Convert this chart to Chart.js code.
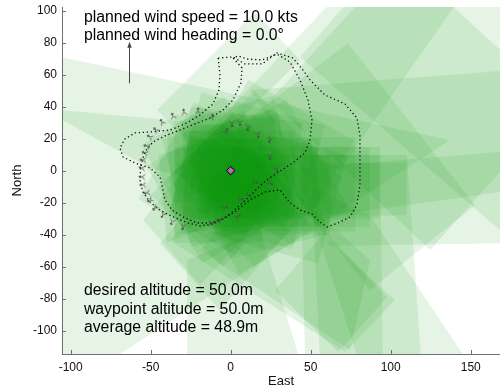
<!DOCTYPE html>
<html>
<head>
<meta charset="utf-8">
<script src="https://cdn.jsdelivr.net/npm/chart.js@4.4.1/dist/chart.umd.min.js"></script>
<style>
  html, body { margin: 0; padding: 0; background: #fff; }
  canvas { display: block; }
</style>
</head>
<body>
<canvas id="footprintChart" width="500" height="391"></canvas>
<script>
// camera footprints on the ground (East, North in metres), one quad per frame
const footprints = [
    [[-237.9, 99.2], [137.1, 19.2], [-156.7, -171.4], [-237.9, -171.4]],
    [[-119.2, 39.2], [12.1, 26.6], [-0.4, -12.1], [-50.4, 1.7]],
    [[-46.0, 37.9], [15.2, 99.2], [43.3, 69.2], [-17.9, 7.9]],
    [[-16.1, 22.3], [65.2, 107.9], [143.3, 107.9], [68.3, 0.4]],
    [[73.3, 79.8], [152.7, -21.6], [87.1, -74.6], [5.8, 28.6]],
    [[105.8, 133.0], [205.8, 41.1], [124.6, -49.6], [24.6, 44.2]],
    [[30.8, 0.4], [180.8, 12.9], [180.8, -45.2], [62.1, -47.1]],
    [[12.1, 50.4], [180.8, 63.3], [180.8, -11.8], [62.1, -28.2]],
    [[43.3, 71.1], [174.6, -42.7], [255.8, 51.1], [124.6, 164.8]],
    [[43.3, 14.8], [93.3, 14.8], [95.2, -118.3], [46.5, -118.3]],
    [[49.6, 9.8], [110.2, 9.8], [119.0, -118.3], [55.8, -118.3]],
    [[43.3, -5.8], [87.1, -27.9], [149.6, -121.4], [80.8, -121.4]],
    [[-27.2, -55.8], [18.4, -37.1], [43.3, -118.3], [-27.2, -118.3]],
    [[59.1, -38.4], [97.8, -79.1], [67.1, -113.4], [27.7, -74.6]],
    [[-19.1, -49.7], [74.6, -112.2], [87.1, -55.8], [24.6, 0.4]],
    [[-37.9, -43.6], [71.6, -113.4], [102.8, -80.8], [5.8, 6.7]],
    [[-54.7, -30.9], [-19.2, 12.9], [24.6, -24.6], [-19.1, -71.4]],
    [[-44.2, -45.3], [-0.4, 6.7], [37.1, -37.2], [-6.7, -87.2]],
    [[-30, 25], [40, 25], [40, -30], [-30, -30]],
    [[-20, 20], [55, 20], [55, -35], [-20, -35]],
    [[-10, 10], [62, 10], [62, -40], [-10, -40]],
    [[-35, 35], [28, 35], [28, -20], [-35, -20]],
    [[-5, 21], [78, 21], [78, -38], [-5, -38]],
    [[0, 15], [87, 15], [87, -35], [0, -35]],
    [[10, 10], [93, 10], [93, -30], [10, -30]],
    [[15, 5], [110, 5], [110, -28], [15, -28]],
    [[24.7, 37.9], [42.9, -29.7], [-24.7, -47.9], [-42.9, 19.7]],
    [[59, 28.3], [38.3, -49], [-39, -28.3], [-18.3, 49]],
    [[7.8, 37.8], [42.8, -22.8], [-17.8, -57.8], [-52.8, 2.8]],
    [[15, 50], [70, -5], [15, -60], [-40, -5]],
    [[34.6, 44.6], [74.6, -24.6], [5.4, -64.6], [-34.6, 4.6]],
    [[37.8, 7.8], [2.8, -52.8], [-57.8, -17.8], [-22.8, 42.8]],
    [[76.9, 18.9], [38.9, -46.9], [-26.9, -8.9], [11.1, 56.9]],
    [[26.2, 46.8], [41.8, -11.2], [-16.2, -26.8], [-31.8, 31.2]],
    [[-5, 30], [40, -15], [-5, -60], [-50, -15]],
    [[-35, 15], [20, 15], [20, -45], [-35, -45]],
    [[72.9, 9.7], [54.7, -57.9], [-12.9, -39.7], [5.3, 27.9]],
    [[-4, 46], [26, -6], [-26, -36], [-56, 16]],
    [[-40, 25], [30, 35], [40, -30], [-35, -40]],
    [[-25, 40], [45, 30], [35, -35], [-30, -25]],
    [[-45, 10], [20, 30], [25, -20], [-40, -45]],
    [[-20, -5], [50, 20], [60, -40], [0, -55]],
    [[-25, 20], [15, 20], [15, -15], [-25, -15]],
    [[-5, 30], [25, 0], [-5, -30], [-35, 0]],
    [[8, 35], [30, -3], [-8, -25], [-30, 13]],
    [[22.6, 9.7], [9.7, -38.6], [-38.6, -25.7], [-25.7, 22.6]],
    [[-15, 15], [30, 15], [30, -25], [-15, -25]]
];

// flown track, two laps around the waypoint
const lapOuter = [
    [-7.8, 70.4], [-6.7, 59.8], [-7.3, 50.4], [-11.1, 41.7], [-19.2, 34.8], [-28.6, 29.2],
    [-37.9, 25.4], [-50.4, 24.2], [-59.8, 23.6], [-66.1, 19.8], [-69.2, 14.2], [-67.3, 8.6],
    [-59.8, 4.8], [-50.4, 1.7], [-44.2, -3.9], [-42.3, -12.1], [-41.1, -18.3], [-36.7, -24.6],
    [-29.8, -28.9], [-21.1, -32.7], [-12.9, -32.7], [-5.4, -30.2], [2.7, -25.8], [12.1, -18.3],
    [21.4, -13.3], [30.8, -12.1], [37.1, -20.2], [43.3, -24.6], [50.8, -27.1], [55.8, -32.1],
    [60.2, -35.2], [67.1, -32.7], [74.6, -28.9], [78.9, -21.4], [80.8, -8.9], [80.8, 6.7],
    [80.8, 22.3], [78.9, 32.9], [71.4, 41.7], [58.9, 47.3], [49.6, 56.7], [45.2, 62.9],
    [38.9, 70.4], [28.9, 73.6], [19.6, 66.7], [8.9, 66.7], [4.6, 69.2], [1.4, 71.1], [-7.8, 70.4]
];
const lapInner = [
    [1.6, 70.4], [7.1, 64.2], [6.4, 54.8], [1.4, 44.2], [-4.8, 37.9], [-12.9, 32.9],
    [-22.3, 29.2], [-31.7, 25.4], [-41.1, 21.7], [-48.6, 17.9], [-53.6, 11.7], [-56.1, 3.6],
    [-56.7, -5.8], [-54.8, -13.3], [-50.4, -19.6], [-44.2, -24.6], [-36.1, -28.9], [-26.7, -32.7],
    [-19.2, -34.6], [-11.1, -33.3], [-3.6, -29.6], [3.9, -23.3], [12.1, -15.8], [20.2, -7.7],
    [28.9, -1.4], [38.9, 4.8], [46.4, 11.1], [49.6, 19.2], [50.8, 31.7], [48.3, 44.2],
    [43.3, 56.7], [37.1, 67.9], [28.9, 72.9], [19.6, 69.2], [10.2, 69.8], [4.6, 71.7], [1.6, 70.4]
];

// attitude samples: position and heading (deg)
const attitudePoints = [
    [-55.4, 1.7], [-55.4, -3.9], [-54.8, -8.9], [-54.8, 6.7], [-53.6, 11.1], [-52.3, 15.4],
    [-50.4, 21.1], [-46.7, 25.4], [-52.3, -13.9], [-50.4, -18.3], [-47.3, -23.3], [-42.3, -27.7],
    [-36.7, -32.1], [-29.8, -35.2], [-42.9, 30.4], [-36.1, 34.2], [-29.2, 36.7], [-20.4, 37.3],
    [-11.7, 33.6], [-2.9, 24.8], [0.8, 29.2], [5.8, 29.8], [10.8, 26.7], [17.1, 22.3],
    [24.6, 19.2], [24.6, 8.6], [28.9, 0.4], [24.6, -7.7], [15.2, -7.1], [-11.7, -32.7],
    [-6.7, -30.8], [-3.6, -23.3], [4.6, -28.9], [6.4, -17.7], [10.8, -15.2]
];
const attitudeHeading = [
    100, 95, 90, 95, 110, 105, 120, 135, 80, 60, 45, 30,
    20, 10, 150, 160, 170, 180, 200, 215, 0, 0, 10, 350,
    20, 0, 340, 300, 280, 260, 240, 250, 230, 270, 300
];

const waypoint = [0, 0];
const windArrow = { from: [-63.8, 54.6], to: [-63.8, 80.6] };

const xTickValues = [-100, -50, 0, 50, 100, 150];
const yTickValues = [-100, -80, -60, -40, -20, 0, 20, 40, 60, 80, 100];

const windLines = ['planned wind speed = 10.0 kts', 'planned wind heading = 0.0\u00b0'];
const altitudeLines = ['desired altitude = 50.0m', 'waypoint altitude = 50.0m', 'average altitude = 48.9m'];

const AXIS_GREY = '#707070';
const FONT = '"Liberation Sans", Arial, sans-serif';

// small aircraft-like glyph used for the attitude markers
function makeAttitudeGlyph() {
    const c = document.createElement('canvas');
    c.width = 7;
    c.height = 7;
    const g = c.getContext('2d');
    g.strokeStyle = '#4a4a4a';
    g.lineWidth = 0.9;
    g.beginPath();
    g.moveTo(3.5, 6.8);
    g.lineTo(3.5, 3.5);
    g.lineTo(1, 0.6);
    g.moveTo(3.5, 3.5);
    g.lineTo(6, 0.6);
    g.moveTo(2, 5.5);
    g.lineTo(5, 5.5);
    g.stroke();
    return c;
}
const attitudeGlyph = makeAttitudeGlyph();

const toXY = pts => pts.map(([x, y]) => ({ x: x, y: y }));

const footprintSets = footprints.map(poly => ({
    type: 'line',
    data: toXY(poly.concat([poly[0]])),
    fill: 'shape',
    backgroundColor: 'rgba(0, 150, 0, 0.1)',
    borderColor: 'rgba(0, 0, 0, 0)',
    borderWidth: 0,
    pointRadius: 0,
    tension: 0
}));

const lapStyle = {
    type: 'line',
    fill: false,
    borderColor: '#111',
    borderWidth: 1.3,
    borderDash: [1.3, 2.7],
    pointRadius: 0,
    tension: 0
};

// inward tick marks, drawn over the footprints
const inwardTicks = {
    id: 'inwardTicks',
    afterDatasetsDraw(chart) {
        const { ctx, chartArea, scales: { x, y } } = chart;
        ctx.save();
        ctx.strokeStyle = AXIS_GREY;
        ctx.lineWidth = 1;
        ctx.beginPath();
        xTickValues.forEach(v => {
            const px = Math.round(x.getPixelForValue(v)) + 0.5;
            ctx.moveTo(px, chartArea.bottom);
            ctx.lineTo(px, chartArea.bottom - 4);
        });
        yTickValues.forEach(v => {
            const py = Math.round(y.getPixelForValue(v)) + 0.5;
            ctx.moveTo(chartArea.left, py);
            ctx.lineTo(chartArea.left + 4, py);
        });
        ctx.stroke();
        ctx.restore();
    }
};

// wind arrow and the two text blocks
const annotations = {
    id: 'annotations',
    afterDraw(chart) {
        const { ctx, scales: { x, y } } = chart;
        ctx.save();

        const ax = Math.round(x.getPixelForValue(windArrow.from[0])) + 0.5;
        const ay0 = y.getPixelForValue(windArrow.from[1]);
        const ay1 = y.getPixelForValue(windArrow.to[1]);
        ctx.strokeStyle = '#444';
        ctx.fillStyle = '#444';
        ctx.lineWidth = 1;
        ctx.beginPath();
        ctx.moveTo(ax, ay0);
        ctx.lineTo(ax, ay1 + 4);
        ctx.stroke();
        ctx.beginPath();
        ctx.moveTo(ax, ay1);
        ctx.lineTo(ax - 2.2, ay1 + 6);
        ctx.lineTo(ax + 2.2, ay1 + 6);
        ctx.closePath();
        ctx.fill();

        ctx.font = '15.8px ' + FONT;
        ctx.fillStyle = '#000';
        ctx.textAlign = 'left';
        ctx.textBaseline = 'alphabetic';
        const tx = x.getPixelForValue(-91.7);
        const topBase = y.getPixelForValue(93.1);
        windLines.forEach((t, i) => ctx.fillText(t, tx, topBase + i * 18.7));
        const lowBase = y.getPixelForValue(-77.9);
        altitudeLines.forEach((t, i) => ctx.fillText(t, tx, lowBase + i * 18.6));
        ctx.restore();
    }
};

const ctx = document.getElementById('footprintChart').getContext('2d');
new Chart(ctx, {
    type: 'scatter',
    data: {
        datasets: [
            {
                type: 'scatter',
                data: toXY([waypoint]),
                pointStyle: 'circle',
                pointRadius: 1.3,
                backgroundColor: '#3fcf3f',
                borderWidth: 0
            },
            {
                type: 'scatter',
                data: toXY([waypoint]),
                pointStyle: 'rectRot',
                pointRadius: 4.3,
                backgroundColor: '#cc44cc',
                borderColor: '#000',
                borderWidth: 1
            },
            {
                type: 'scatter',
                data: toXY(attitudePoints),
                pointStyle: attitudeGlyph,
                pointRadius: 3.5,
                rotation: c => attitudeHeading[c.dataIndex]
            },
            Object.assign({ data: toXY(lapOuter) }, lapStyle),
            Object.assign({ data: toXY(lapInner) }, lapStyle),
            ...footprintSets
        ]
    },
    options: {
        responsive: false,
        animation: false,
        devicePixelRatio: 1,
        events: [],
        layout: { autoPadding: false, padding: { top: 7, right: 0, left: 0, bottom: 0 } },
        plugins: {
            legend: { display: false },
            tooltip: { enabled: false }
        },
        scales: {
            x: {
                type: 'linear',
                min: -105.4,
                max: 168.3,
                afterBuildTicks: s => { s.ticks = xTickValues.map(v => ({ value: v })); },
                afterFit: s => { s.height = 37; s.paddingLeft = 0; s.paddingRight = 0; },
                grid: { display: true, drawOnChartArea: false, drawTicks: false },
                border: { display: true, color: AXIS_GREY, width: 1 },
                ticks: { color: '#111', font: { family: FONT, size: 12 }, padding: 6, maxRotation: 0 },
                title: {
                    display: true, text: 'East', color: '#111',
                    font: { family: FONT, size: 13 }, padding: { top: 0, bottom: 2 }
                }
            },
            y: {
                type: 'linear',
                min: -114.6,
                max: 102.3,
                afterBuildTicks: s => { s.ticks = yTickValues.map(v => ({ value: v })); },
                afterFit: s => { s.width = 62; s.paddingTop = 0; s.paddingBottom = 0; },
                grid: { display: true, drawOnChartArea: false, drawTicks: false },
                border: { display: true, color: AXIS_GREY, width: 1 },
                ticks: { color: '#111', font: { family: FONT, size: 12 }, padding: 5 },
                title: {
                    display: true, text: 'North', color: '#111',
                    font: { family: FONT, size: 13 }, padding: { top: 10, bottom: 0 }
                }
            }
        }
    },
    plugins: [inwardTicks, annotations]
});
</script>
</body>
</html>
